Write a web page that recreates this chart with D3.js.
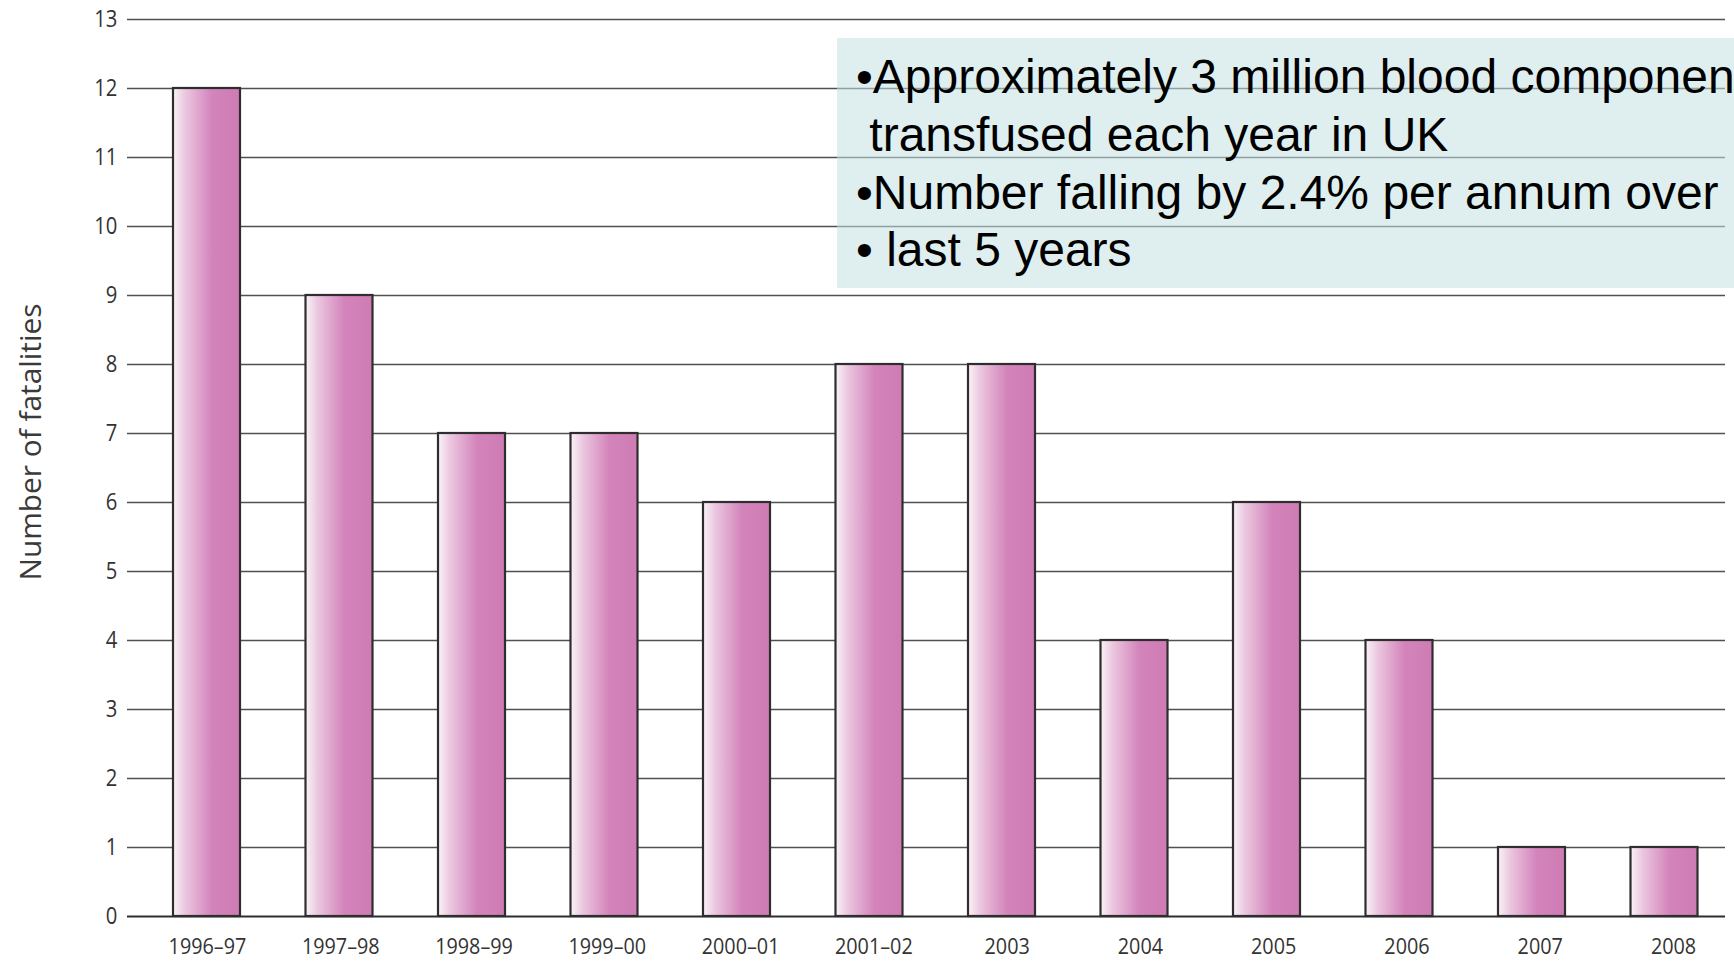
<!DOCTYPE html>
<html>
<head>
<meta charset="utf-8">
<script src="https://cdn.jsdelivr.net/npm/d3@7"></script>
<style>
  html, body { margin: 0; padding: 0; background: #ffffff; }
  svg { display: block; }
</style>
</head>
<body>
<svg id="chart" width="1734" height="961"></svg>
<script>
// Blood transfusion fatalities per reporting year
const categories = ["1996–97", "1997–98", "1998–99", "1999–00", "2000–01", "2001–02",
                    "2003", "2004", "2005", "2006", "2007", "2008"];
const fatalities = [12, 9, 7, 7, 6, 8, 8, 4, 6, 4, 1, 1];
const yTicks = [0, 1, 2, 3, 4, 5, 6, 7, 8, 9, 10, 11, 12, 13];
const yTitle = "Number of fatalities";
const noteLines = [
  "•Approximately 3 million blood componen",
  " transfused each year in UK",
  "•Number falling by 2.4% per annum over",
  "• last 5 years"
];

const svg = d3.select("#chart");
const W = 1734, H = 961;

const plotLeft = 127, plotRight = 1725;
const y = d3.scaleLinear().domain([0, 13]).range([916, 19]);

const step = 132.5, barW = 67;
const x = d3.scaleBand()
  .domain(categories)
  .range([206.5 - step / 2, 206.5 - step / 2 + step * categories.length])
  .paddingInner(1 - barW / step)
  .paddingOuter((1 - barW / step) / 2);

// category labels sit on their own, slightly wider spacing
const xLabel = d3.scalePoint().domain(categories).range([207, 1673]);

// bar fill: pale at the left edge, deepening to pink
const defs = svg.append("defs");
const grad = defs.append("linearGradient").attr("id", "barFill")
  .attr("x1", "0%").attr("x2", "100%").attr("y1", "0%").attr("y2", "0%");
grad.append("stop").attr("offset", "0%").attr("stop-color", "#faf3f8");
grad.append("stop").attr("offset", "18%").attr("stop-color", "#ebc7df");
grad.append("stop").attr("offset", "58%").attr("stop-color", "#d384bb");
grad.append("stop").attr("offset", "100%").attr("stop-color", "#cf7bb4");

// gridlines + y tick labels
const yAxis = svg.append("g")
  .attr("transform", `translate(${plotLeft},0)`)
  .call(d3.axisLeft(y).tickValues(yTicks).tickFormat(d3.format("d"))
    .tickSize(-(plotRight - plotLeft)).tickPadding(10));
yAxis.select(".domain").remove();
yAxis.selectAll(".tick line")
  .attr("stroke", d => d === 0 ? "#2e2e2e" : "#505050")
  .attr("stroke-width", d => d === 0 ? 2.2 : 1.7);
yAxis.selectAll(".tick text")
  .attr("font-family", "'Open Sans', sans-serif")
  .attr("font-size", 23)
  .attr("fill", "#333333")
  .attr("x", -11)
  .attr("transform", "scale(0.88,1)");

// note panel, laid over the gridlines with partial transparency
svg.append("rect")
  .attr("x", 837).attr("y", 38)
  .attr("width", W - 837).attr("height", 250)
  .attr("fill", "rgb(196,226,226)")
  .attr("fill-opacity", 0.55);

// bars
svg.append("g").selectAll("rect")
  .data(categories)
  .join("rect")
  .attr("x", d => x(d))
  .attr("y", (d, i) => y(fatalities[i]))
  .attr("width", x.bandwidth())
  .attr("height", (d, i) => y(0) - y(fatalities[i]))
  .attr("fill", "url(#barFill)")
  .attr("stroke", "#2e2e2e")
  .attr("stroke-width", 2.2);

// x category labels
const xAxis = svg.append("g")
  .attr("transform", `translate(0,${y(0)})`)
  .call(d3.axisBottom(xLabel).tickSize(0).tickPadding(22));
xAxis.select(".domain").remove();
xAxis.selectAll(".tick text")
  .attr("font-family", "'Open Sans', sans-serif")
  .attr("font-size", 22)
  .attr("fill", "#333333")
  .attr("transform", "scale(0.9,1)");

// y axis title
svg.append("text")
  .attr("transform", "translate(41,442) rotate(-90)")
  .attr("text-anchor", "middle")
  .attr("font-family", "'Open Sans', sans-serif")
  .attr("font-size", 30)
  .attr("fill", "#3a3a3a")
  .attr("textLength", 277)
  .attr("lengthAdjust", "spacingAndGlyphs")
  .text(yTitle);

// note text
const baselines = [93, 151, 208.5, 266];
svg.append("g").selectAll("text")
  .data(noteLines)
  .join("text")
  .attr("x", 856)
  .attr("y", (d, i) => baselines[i])
  .attr("font-family", "'Liberation Sans', Arial, sans-serif")
  .attr("font-size", 48)
  .attr("fill", "#000000")
  .style("white-space", "pre")
  .text(d => d);
</script>
</body>
</html>
